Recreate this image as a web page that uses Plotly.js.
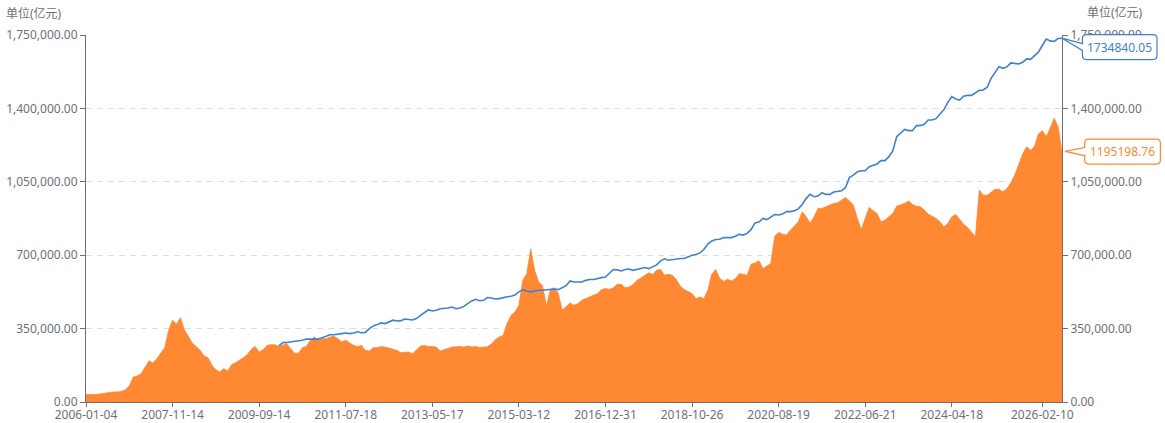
<!DOCTYPE html>
<html>
<head>
<meta charset="utf-8">
<script src="https://cdn.plot.ly/plotly-3.0.1.min.js"></script>
<style>
html,body{margin:0;padding:0;background:#fff;}
#chart{width:1165px;height:423px;}
</style>
</head>
<body>
<div id="chart"></div>
<script>
// ---------- data ----------
const firstMonth = '2006-01';          // first category (monthly samples)
const marketValue = [              // orange area, 亿元
  35000,35000,35000,37000,39500,43000,48000,48000,48000,50600,58000,76000,
  119000,124000,135000,167000,196000,186000,206000,233000,259000,342000,390000,371000,
  402000,345000,313000,281000,265000,246000,220000,211000,175000,154000,143000,159000,
  148000,178000,187000,198000,211000,227000,251000,265000,238000,249000,270000,273000,
  273000,265000,270000,278000,254000,233000,233000,259000,265000,294000,310000,294000,
  302000,302000,310000,313000,302000,286000,294000,281000,270000,265000,270000,246000,
  243000,259000,259000,265000,262000,257000,251000,246000,235000,238000,238000,230000,
  249000,267000,270000,265000,265000,262000,243000,249000,257000,262000,263000,265000,
  262000,267000,262000,265000,260000,260000,263000,276000,297000,310000,318000,374000,
  413000,429000,461000,580000,612000,730000,628000,572000,556000,456000,536000,545000,
  517000,437000,453000,472000,461000,469000,485000,493000,501000,512000,517000,536000,
  541000,537000,545000,561000,561000,545000,548000,560000,580000,591000,604000,616000,
  608000,628000,632000,604000,609000,604000,584000,552000,536000,525000,517000,493000,
  501000,493000,533000,609000,632000,590000,575000,585000,577000,588000,612000,609000,
  604000,657000,663000,673000,636000,648000,660000,790000,808000,800000,796000,819000,
  839000,859000,907000,883000,852000,883000,923000,923000,931000,939000,947000,950000,
  962000,975000,959000,939000,875000,822000,875000,928000,912000,899000,859000,867000,
  883000,899000,934000,939000,947000,959000,942000,934000,931000,915000,896000,886000,
  875000,859000,835000,851000,883000,894000,870000,848000,832000,811000,788000,1010000,
  986000,986000,998000,1014000,1014000,1002000,1017000,1045000,1082000,1130000,1182000,1217000,
  1201000,1217000,1278000,1294000,1265000,1305000,1353000,1313000,1195198.76
];
const lineStartMonth = '2010-02';       // blue line begins here
const lineValue = [                // blue line, 亿元
  268000,283000,284000,286000,289000,291000,294000,300000,300000,297000,300000,
  306000,313000,321000,321000,322000,326000,329000,326000,329000,335000,330000,332000,
  350000,363000,369000,377000,374000,382000,390000,386000,388000,396000,393000,391000,
  399000,412000,424000,440000,434000,437000,445000,445000,448000,453000,445000,448000,
  456000,469000,482000,490000,483000,485000,498000,496000,491000,493000,498000,502000,
  504000,510000,525000,536000,529000,525000,529000,533000,533000,536000,539000,539000,
  536000,545000,555000,577000,572000,572000,572000,580000,584000,584000,590000,593000,
  596000,612000,632000,630000,625000,632000,634000,628000,632000,636000,641000,636000,
  644000,654000,673000,683000,676000,679000,684000,684000,684000,692000,700000,703000,
  711000,727000,753000,768000,775000,776000,784000,784000,784000,790000,800000,796000,
  804000,823000,854000,858000,875000,870000,880000,894000,892000,896000,908000,908000,
  912000,921000,942000,971000,990000,979000,982000,998000,990000,990000,1001000,1004000,
  1007000,1023000,1071000,1082000,1098000,1103000,1103000,1122000,1130000,1135000,1151000,1151000,
  1170000,1197000,1265000,1284000,1300000,1294000,1294000,1318000,1318000,1324000,1345000,1345000,
  1351000,1373000,1394000,1429000,1456000,1445000,1440000,1458000,1462000,1462000,1472000,1486000,
  1488000,1501000,1544000,1572000,1599000,1591000,1598000,1617000,1615000,1612000,1620000,1636000,
  1634000,1649000,1668000,1700000,1731000,1722000,1719000,1733000,1734840.05
];
const tickLabels = ['2006-01-04','2007-11-14','2009-09-14','2011-07-18','2013-05-17','2015-03-12',
                    '2016-12-31','2018-10-26','2020-08-19','2022-06-21','2024-04-18','2026-02-10'];
const tickMonths = ['2006-01','2007-11','2009-09','2011-07','2013-05','2015-03',
                    '2017-01','2018-11','2020-09','2022-07','2024-05','2026-04'];
const yTicks = [0, 350000, 700000, 1050000, 1400000, 1750000];
const unitText = '单位(亿元)';

// ---------- categories ----------
const months = [];
{
  const y0 = +firstMonth.slice(0,4), m0 = +firstMonth.slice(5,7) - 1;
  for (let i = 0; i < marketValue.length; i++) {
    const t = m0 + i;
    months.push((y0 + Math.floor(t/12)) + '-' + String(t%12 + 1).padStart(2,'0'));
  }
}
const lineStart = months.indexOf(lineStartMonth);
const lineX = months.slice(lineStart, lineStart + lineValue.length);

const ORANGE = '#ff8833';
const BLUE = '#3f80d6';
const AXIS = '#6e7079';
const FONT = '"Noto Sans", "Noto Sans CJK SC", sans-serif';
const yMax = yTicks[yTicks.length - 1];

const traces = [
  {
    type: 'scatter', mode: 'lines', x: months, y: marketValue, yaxis: 'y',
    fill: 'tozeroy', fillcolor: ORANGE, line: {color: ORANGE, width: 0.8},
    hoverinfo: 'skip', name: '市值'
  },
  {
    type: 'scatter', mode: 'lines', x: lineX, y: lineValue, yaxis: 'y2',
    line: {color: BLUE, width: 1.6}, hoverinfo: 'skip', name: '规模'
  }
];

const lastOrange = marketValue[marketValue.length - 1];
const lastBlue = lineValue[lineValue.length - 1];

const yCommon = {
  range: [0, yMax], tickmode: 'array', tickvals: yTicks, tickformat: ',.2f',
  ticks: 'outside', ticklen: 5, tickcolor: AXIS, tickwidth: 1,
  showline: true, linecolor: AXIS, linewidth: 1, zeroline: false,
  tickfont: {family: FONT, size: 12, color: AXIS}, automargin: false, fixedrange: true
};

const layout = {
  width: 1165, height: 423,
  margin: {l: 86, r: 102.7, t: 35, b: 21.4, pad: 0},
  paper_bgcolor: '#fff', plot_bgcolor: '#fff',
  showlegend: false,
  font: {family: FONT, size: 12, color: AXIS},
  xaxis: {
    type: 'category', range: [0, months.length - 1],
    tickmode: 'array', tickvals: tickMonths, ticktext: tickLabels,
    ticks: 'outside', ticklen: 4, tickcolor: AXIS, tickwidth: 1, ticklabelstandoff: -2,
    showline: true, linecolor: AXIS, linewidth: 1, showgrid: false, zeroline: false,
    tickfont: {family: FONT, size: 12, color: AXIS}, automargin: false, fixedrange: true
  },
  yaxis: Object.assign({}, yCommon, {
    showgrid: true, gridcolor: '#dedede', griddash: '6px,5px', gridwidth: 1
  }),
  yaxis2: Object.assign({}, yCommon, {overlaying: 'y', side: 'right', showgrid: false}),
  shapes: [
    {
      type: 'path', xref: 'paper', yref: 'paper', xsizemode: 'pixel', ysizemode: 'pixel',
      xanchor: 1, yanchor: lastBlue / yMax, layer: 'above',
      path: 'M0,0 L20.4,-5.5 L20.4,-0.4 Q20.4,3.6 24.4,3.6 L91,3.6 Q95,3.6 95,-0.4 L95,-17.4 Q95,-21.4 91,-21.4 L24.4,-21.4 Q20.4,-21.4 20.4,-17.4 L20.4,-12.2 Z',
      line: {color: BLUE, width: 1.2}, fillcolor: '#ffffff'
    },
    {
      type: 'path', xref: 'paper', yref: 'paper', xsizemode: 'pixel', ysizemode: 'pixel',
      xanchor: 1, yanchor: lastOrange / yMax, layer: 'above',
      path: 'M3,0 L22.7,3.8 L22.7,8.3 Q22.7,12.3 26.7,12.3 L94.4,12.3 Q98.4,12.3 98.4,8.3 L98.4,-8.7 Q98.4,-12.7 94.4,-12.7 L26.7,-12.7 Q22.7,-12.7 22.7,-8.7 L22.7,-4.2 Z',
      line: {color: ORANGE, width: 1.2}, fillcolor: '#ffffff'
    }
  ],
  annotations: [
    {xref: 'paper', yref: 'paper', x: 0, y: 1, xanchor: 'left', yanchor: 'middle',
     xshift: -82, yshift: 22, text: unitText, showarrow: false,
     font: {family: FONT, size: 12, color: AXIS}},
    {xref: 'paper', yref: 'paper', x: 1, y: 1, xanchor: 'left', yanchor: 'middle',
     xshift: 22.5, yshift: 22.5, text: unitText, showarrow: false,
     font: {family: FONT, size: 12, color: AXIS}},
    {xref: 'paper', yref: 'y', x: 1, y: lastBlue, xanchor: 'center', yanchor: 'middle',
     xshift: 57.7, yshift: -8.9, text: String(lastBlue), showarrow: false,
     font: {family: FONT, size: 12, color: BLUE}},
    {xref: 'paper', yref: 'y', x: 1, y: lastOrange, xanchor: 'center', yanchor: 'middle',
     xshift: 60.5, yshift: -0.2, text: String(lastOrange), showarrow: false,
     font: {family: FONT, size: 12, color: ORANGE}}
  ]
};

Plotly.newPlot('chart', traces, layout, {staticPlot: true, displayModeBar: false});
</script>
</body>
</html>
